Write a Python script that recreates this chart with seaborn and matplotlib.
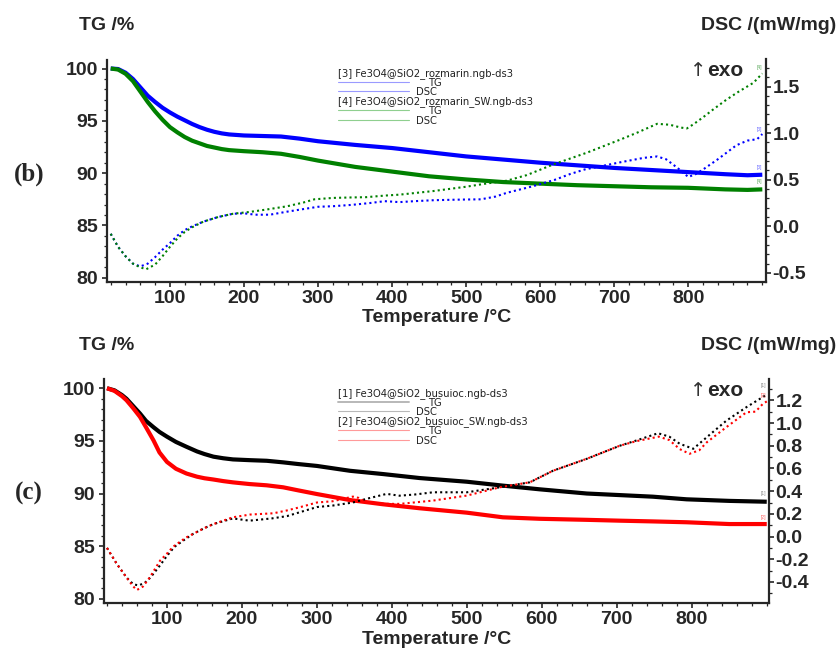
import matplotlib
matplotlib.use("Agg")
import matplotlib.pyplot as plt
from matplotlib.lines import Line2D
from matplotlib.ticker import MultipleLocator, FormatStrFormatter
import seaborn as sns
import pandas as pd

# ---------------- data: panel (b) rosemary samples ----------------
tg_rozmarin_t = [20, 30, 40, 50, 60, 70, 80, 90, 100, 110, 120, 130, 140, 150, 160, 170, 180,
                 200, 225, 250, 275, 300, 350, 400, 450, 500, 550, 600, 650, 700, 750, 800,
                 850, 880, 900]
tg_rozmarin = [100.0, 99.95, 99.6, 99.0, 98.2, 97.4, 96.8, 96.25, 95.8, 95.4, 95.05, 94.7, 94.4,
               94.15, 93.95, 93.8, 93.7, 93.6, 93.55, 93.5, 93.3, 93.05, 92.7, 92.4, 92.0, 91.6,
               91.3, 91.0, 90.75, 90.5, 90.3, 90.1, 89.9, 89.8, 89.85]
tg_rozmarin_sw = [100.0, 99.9, 99.5, 98.8, 97.8, 96.8, 95.9, 95.1, 94.4, 93.9, 93.45, 93.1, 92.85,
                  92.6, 92.45, 92.3, 92.2, 92.1, 92.0, 91.85, 91.55, 91.2, 90.6, 90.15, 89.7,
                  89.4, 89.15, 89.0, 88.85, 88.75, 88.65, 88.6, 88.45, 88.4, 88.45]

dsc_rozmarin_t = [20, 30, 40, 50, 60, 70, 80, 90, 100, 110, 120, 130, 145, 165, 185, 200, 215,
                  235, 260, 280, 300, 320, 345, 370, 390, 410, 430, 455, 480, 500, 520, 540,
                  555, 570, 590, 620, 640, 660, 685, 710, 740, 758, 770, 785, 800, 810, 820,
                  840, 865, 880, 893, 900]
dsc_rozmarin = [-0.08, -0.22, -0.32, -0.40, -0.43, -0.40, -0.33, -0.25, -0.18, -0.10, -0.04,
                0.0, 0.05, 0.10, 0.135, 0.14, 0.125, 0.125, 0.16, 0.185, 0.21, 0.216, 0.23,
                0.25, 0.27, 0.26, 0.27, 0.28, 0.285, 0.288, 0.29, 0.32, 0.36, 0.39, 0.43, 0.50,
                0.56, 0.61, 0.65, 0.69, 0.735, 0.75, 0.72, 0.63, 0.53, 0.56, 0.61, 0.72, 0.87,
                0.92, 0.935, 0.99]

dsc_rozmarin_sw_t = [20, 30, 40, 50, 60, 68, 80, 90, 100, 110, 120, 130, 145, 165, 185, 208,
                     230, 258, 280, 295, 320, 345, 365, 390, 410, 455, 500, 528, 555, 582, 618,
                     663, 708, 731, 758, 775, 790, 798, 807, 820, 834, 850, 866, 888, 900]
dsc_rozmarin_sw = [-0.08, -0.22, -0.32, -0.40, -0.44, -0.46, -0.41, -0.32, -0.22, -0.13, -0.06,
                   -0.01, 0.05, 0.10, 0.135, 0.155, 0.18, 0.215, 0.255, 0.29, 0.305, 0.31, 0.313,
                   0.33, 0.34, 0.378, 0.425, 0.46, 0.49, 0.55, 0.665, 0.79, 0.93, 1.005, 1.10,
                   1.09, 1.06, 1.05, 1.095, 1.17, 1.256, 1.35, 1.435, 1.54, 1.64]

# ---------------- data: panel (c) basil samples ----------------
tg_busuioc_t = [20, 30, 40, 46, 55, 64, 72, 82, 90, 100, 112, 126, 140, 150, 162, 175, 188, 210,
                233, 255, 275, 300, 344, 388, 437, 500, 548, 597, 660, 704, 748, 793, 850, 900]
tg_busuioc = [100.0, 99.8, 99.35, 99.0, 98.3, 97.6, 96.9, 96.3, 95.85, 95.4, 94.9, 94.44, 94.0,
              93.75, 93.5, 93.35, 93.24, 93.17, 93.11, 92.96, 92.8, 92.62, 92.16, 91.85, 91.47,
              91.12, 90.75, 90.4, 90.0, 89.85, 89.7, 89.45, 89.3, 89.22]
tg_busuioc_sw = [100.0, 99.75, 99.25, 98.86, 98.1, 97.28, 96.3, 95.05, 93.9, 93.0, 92.35, 91.9,
                 91.6, 91.45, 91.33, 91.18, 91.06, 90.9, 90.78, 90.59, 90.3, 89.95, 89.38,
                 88.98, 88.6, 88.18, 87.74, 87.6, 87.5, 87.42, 87.35, 87.27, 87.1, 87.1]

dsc_busuioc_t = [20, 33, 46, 55, 62, 70, 78, 90, 100, 110, 125, 135, 150, 162, 188, 210, 240,
                 260, 277, 300, 321, 348, 366, 393, 410, 430, 455, 500, 544, 584, 615, 660, 704,
                 726, 755, 770, 784, 802, 820, 846, 873, 895, 900]
dsc_busuioc = [-0.10, -0.24, -0.36, -0.42, -0.43, -0.41, -0.36, -0.26, -0.17, -0.09, -0.02,
               0.024, 0.075, 0.11, 0.16, 0.14, 0.16, 0.18, 0.214, 0.26, 0.273, 0.30, 0.332,
               0.376, 0.36, 0.37, 0.39, 0.39, 0.434, 0.478, 0.58, 0.685, 0.80, 0.846, 0.91,
               0.88, 0.817, 0.773, 0.875, 1.02, 1.14, 1.23, 1.25]

dsc_busuioc_sw_t = [20, 33, 46, 55, 60, 68, 77, 91, 100, 108, 125, 135, 150, 162, 188, 211, 242,
                    260, 277, 300, 321, 340, 348, 356, 366, 393, 411, 455, 500, 544, 584, 615,
                    660, 704, 726, 756, 770, 784, 797, 810, 820, 846, 873, 885, 895, 900]
dsc_busuioc_sw = [-0.10, -0.24, -0.36, -0.44, -0.47, -0.44, -0.36, -0.21, -0.15, -0.09, -0.01,
                  0.024, 0.075, 0.11, 0.17, 0.194, 0.205, 0.23, 0.258, 0.30, 0.311, 0.34, 0.352,
                  0.34, 0.30, 0.288, 0.288, 0.317, 0.361, 0.434, 0.478, 0.58, 0.685, 0.80, 0.84,
                  0.88, 0.85, 0.77, 0.729, 0.76, 0.83, 0.963, 1.095, 1.10, 1.17, 1.19]

tg_ticks = [80, 85, 90, 95, 100]
temp_ticks = [100, 200, 300, 400, 500, 600, 700, 800]
dsc_ticks_b = [-0.5, 0.0, 0.5, 1.0, 1.5]
dsc_ticks_c = [-0.4, -0.2, 0.0, 0.2, 0.4, 0.6, 0.8, 1.0, 1.2]

legend_b = ["[3] Fe3O4@SiO2_rozmarin.ngb-ds3", "[4] Fe3O4@SiO2_rozmarin_SW.ngb-ds3"]
legend_c = ["[1] Fe3O4@SiO2_busuioc.ngb-ds3", "[2] Fe3O4@SiO2_busuioc_SW.ngb-ds3"]

# ---------------- styling ----------------
sns.set_style("ticks")
plt.rcParams["font.family"] = ["Liberation Sans", "DejaVu Sans"]
plt.rcParams["font.weight"] = "bold"
plt.rcParams["axes.unicode_minus"] = False

W, H = 840, 649
fig = plt.figure(figsize=(W / 100, H / 100), dpi=100)


def fx(px):
    return px / W


def fy(py):
    return 1 - py / H


def curve(ax, t, v, color, dotted=False):
    df = pd.DataFrame({"T": t, "v": v})
    if dotted:
        sns.lineplot(data=df, x="T", y="v", ax=ax, color=color, lw=1.5,
                     linestyle=(0, (1, 1.5)), estimator=None, sort=False)
        ax.lines[-1].set_dash_capstyle("butt")
    else:
        sns.lineplot(data=df, x="T", y="v", ax=ax, color=color, lw=3.0,
                     estimator=None, sort=False, solid_capstyle="butt")


def style_axes(ax, ax2, xlim, tglim, dsclim, dticks, dfmt):
    ax.set_xlim(*xlim)
    ax.set_ylim(*tglim)
    ax2.set_ylim(*dsclim)
    ax.set_xticks(temp_ticks)
    ax.set_yticks(tg_ticks)
    ax2.set_yticks(dticks)
    ax.xaxis.set_minor_locator(MultipleLocator(20))
    ax.yaxis.set_minor_locator(MultipleLocator(1))
    ax2.yaxis.set_minor_locator(MultipleLocator(0.1))
    ax2.yaxis.set_major_formatter(FormatStrFormatter(dfmt))
    ax.set_xlabel("")
    ax.set_ylabel("")
    ax2.set_ylabel("")
    for a in (ax, ax2):
        a.spines["top"].set_visible(False)
        for s in a.spines.values():
            s.set_linewidth(1.6)
        a.tick_params(which="major", direction="out", length=3.5, width=1.2,
                      labelsize=14, pad=2)
        a.tick_params(which="minor", direction="out", length=2, width=0.9)
    ax.spines["right"].set_visible(False)
    ax2.spines["left"].set_visible(False)
    ax2.spines["bottom"].set_visible(False)
    ax.tick_params(axis="y", pad=3)
    ax2.tick_params(axis="y", pad=1)
    for lab in ax.get_xticklabels() + ax.get_yticklabels() + ax2.get_yticklabels():
        lab.set_fontweight("bold")


def panel(rect, letter, letter_y, top_y, ax_bottom_px, series, leg, leg_colors, markers,
          xlim, tglim, dsclim, dticks, dfmt, exo_y):
    ax = fig.add_axes(rect)
    ax2 = ax.twinx()
    for t, v, c in series["tg"]:
        curve(ax, t, v, c)
    for t, v, c in series["dsc"]:
        curve(ax2, t, v, c, dotted=True)
    style_axes(ax, ax2, xlim, tglim, dsclim, dticks, dfmt)

    fig.text(fx(79), fy(top_y), "TG /%", fontsize=14, fontweight="bold",
             ha="left", va="center")
    fig.text(fx(836), fy(top_y), "DSC /(mW/mg)", fontsize=14, fontweight="bold",
             ha="right", va="center")
    fig.text(fx(437), fy(ax_bottom_px + 36), "Temperature /\u00b0C", fontsize=14,
             fontweight="bold", ha="center", va="center")
    fig.text(fx(29), fy(letter_y), letter, fontsize=18, fontweight="bold",
             family="Liberation Serif", ha="center", va="center")
    fig.text(fx(690), fy(exo_y), "\u2191", fontsize=14, fontweight="normal",
             family="DejaVu Sans", ha="left", va="center", color="#333333")
    fig.text(fx(707), fy(exo_y), "exo", fontsize=15, fontweight="bold",
             ha="left", va="center")

    # dataset legend block: file name, then a TG and a DSC line sample
    row0 = series["legend_rows"][0]
    for i, (title, col) in enumerate(zip(leg, leg_colors)):
        ty = row0 + i * 28.2
        fig.text(fx(338), fy(ty), title, fontsize=7.2, fontweight="normal",
                 family="DejaVu Sans", ha="left", va="center", color="#222222")
        for j, name in enumerate(["TG", "DSC"]):
            ly = ty + 9.4 * (j + 1)
            fig.add_artist(Line2D([fx(338), fx(409)], [fy(ly - 1), fy(ly - 1)],
                                  transform=fig.transFigure, color=col,
                                  lw=1.4 if (j == 0 and col == "#b8b8b8") else 0.8))
            fig.text(fx(428 if name == "TG" else 416), fy(ly), name, fontsize=7.2,
                     fontweight="normal", family="DejaVu Sans", ha="left",
                     va="center", color="#222222")
    for (mx, my, txt, col) in markers:
        fig.text(fx(mx), fy(my), txt, fontsize=3.5, fontweight="normal",
                 ha="center", va="center", color=col)
    return ax, ax2


# panel (b)
panel([fx(107), fy(282), (766 - 107) / W, (282 - 59.5) / H], "(b)", 174, 25, 282,
      {"tg": [(tg_rozmarin_t, tg_rozmarin, "#0000ff"),
              (tg_rozmarin_t, tg_rozmarin_sw, "#008000")],
       "dsc": [(dsc_rozmarin_t, dsc_rozmarin, "#0000ff"),
               (dsc_rozmarin_sw_t, dsc_rozmarin_sw, "#008000")],
       "legend_rows": [73.5]},
      legend_b, ["#9a9aff", "#8fcf8f"],
      [(759, 67, "[4]", "#5aa85a"), (759, 129, "[3]", "#6a6aff"),
       (759, 168, "[3]", "#6a6aff"), (759, 182, "[4]", "#5aa85a")],
      (15, 905), (79.6, 100.86), (-0.597, 1.79), dsc_ticks_b, "%.1f", 71)

# panel (c)
panel([fx(104), fy(603), (769 - 104) / W, (603 - 379.3) / H], "(c)", 493, 345, 603,
      {"tg": [(tg_busuioc_t, tg_busuioc, "#000000"),
              (tg_busuioc_t, tg_busuioc_sw, "#ff0000")],
       "dsc": [(dsc_busuioc_t, dsc_busuioc, "#000000"),
               (dsc_busuioc_sw_t, dsc_busuioc_sw, "#ff0000")],
       "legend_rows": [393.5]},
      legend_c, ["#b8b8b8", "#ff9a9a"],
      [(763, 385, "[1]", "#888888"), (763, 395, "[2]", "#ff6060"),
       (763, 494, "[1]", "#888888"), (763, 517, "[2]", "#ff6060")],
      (16, 903), (79.6, 100.85), (-0.585, 1.385), dsc_ticks_c, "%.1f", 391)

fig.savefig("out.png", dpi=100)
